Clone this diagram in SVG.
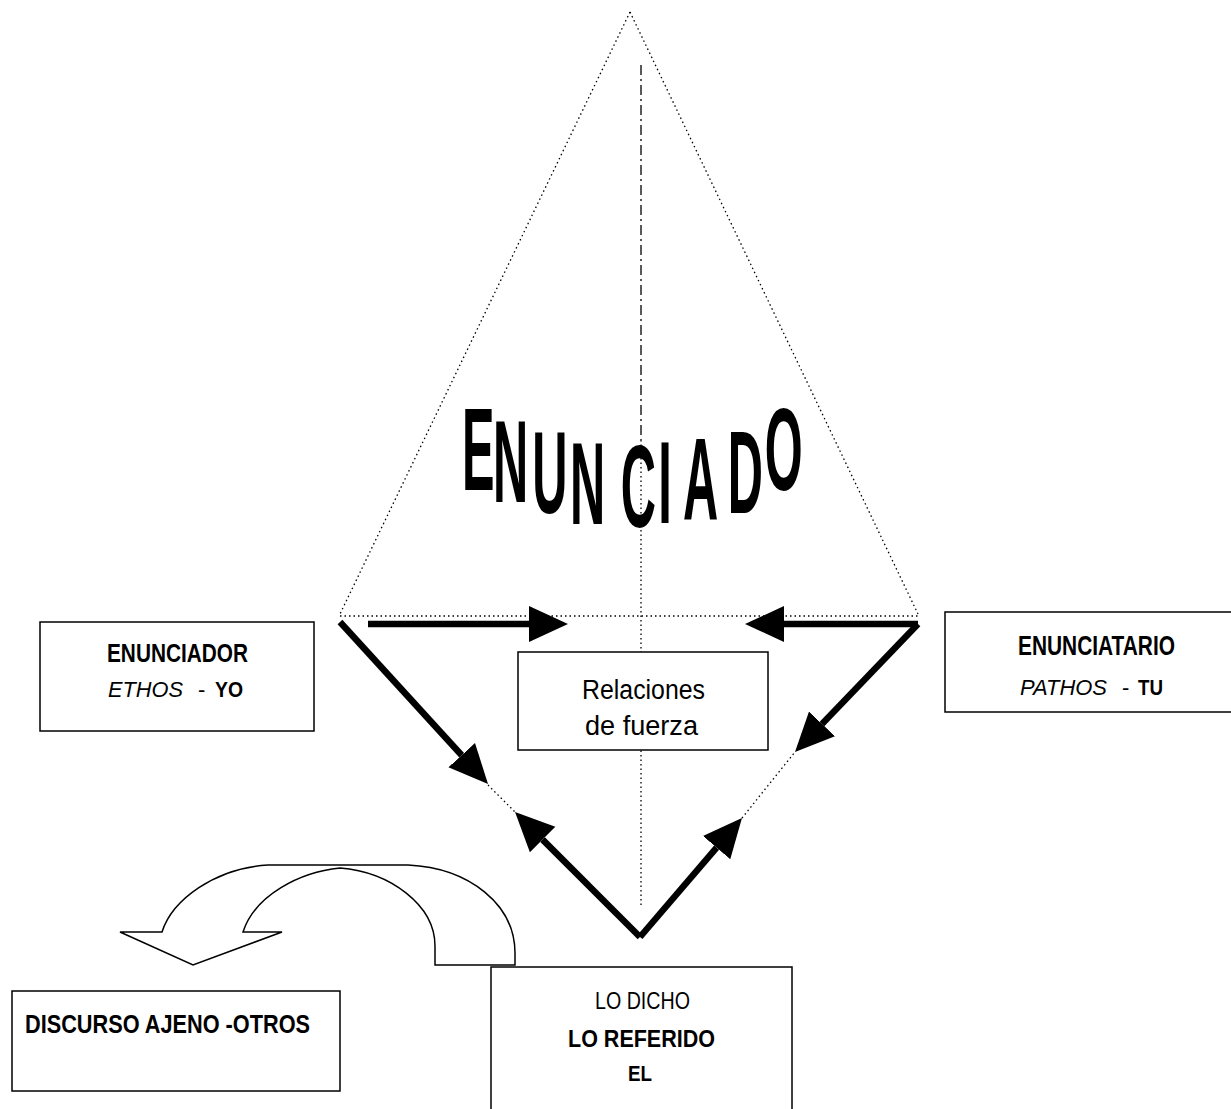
<svg xmlns="http://www.w3.org/2000/svg" width="1231" height="1109" viewBox="0 0 1231 1109">
<style>
.dot{fill:none;stroke:#000;stroke-width:1.3;stroke-dasharray:1.5 3}
.dd{fill:none;stroke:#000;stroke-width:1.3;stroke-dasharray:10 4 2 4}
.thick{fill:none;stroke:#000;stroke-width:6.5;marker-end:url(#ah)}
.box{fill:#fff;stroke:#000;stroke-width:1.5}
.t{font-family:"Liberation Sans",Arial,sans-serif;fill:#000}
.b{font-weight:bold}
.i{font-style:italic}
</style>
<defs>
<marker id="ah" markerUnits="userSpaceOnUse" markerWidth="42" markerHeight="42" viewBox="0 -19 42 38" refX="0" refY="0" orient="auto">
<path d="M0,-18 L39,0 L0,18 Z" fill="#000"/>
</marker>
</defs>
<rect width="1231" height="1109" fill="#fff"/>
<g id="pyramid">
<path class="dot" d="M630,12 L340,614 M630,12 L918,614 M340,616 L918,616"/>
<path class="dd" d="M641,65 L641,440"/>
<path class="dot" d="M641,440 L641,905"/>
<path class="dot" d="M488,785 L515,812 M742,818 L795,752"/>
<text id="enunciado" class="t b" font-size="116" transform="scale(0.42,1)"><tspan x="1100" y="490">E</tspan><tspan x="1174" y="502">N</tspan><tspan x="1267" y="513">U</tspan><tspan x="1357" y="524">N</tspan><tspan x="1478" y="527">C</tspan><tspan x="1567" y="523">I</tspan><tspan x="1626" y="520">A</tspan><tspan x="1733" y="513">D</tspan><tspan x="1821" y="490">O</tspan></text>
</g>
<g id="enunciador">
<rect class="box" x="40" y="622" width="274" height="109"/>
<text class="t b" x="107" y="662" font-size="26" textLength="141" lengthAdjust="spacingAndGlyphs">ENUNCIADOR</text>
<text class="t" y="697" font-size="22"><tspan class="i" x="108" textLength="75" lengthAdjust="spacingAndGlyphs">ETHOS</tspan><tspan x="192"> - </tspan><tspan class="b" x="215" textLength="28" lengthAdjust="spacingAndGlyphs">YO</tspan></text>
</g>
<g id="enunciatario">
<rect class="box" x="945" y="612" width="300" height="100"/>
<text class="t b" x="1018" y="655" font-size="27" textLength="157" lengthAdjust="spacingAndGlyphs">ENUNCIATARIO</text>
<text class="t" y="695" font-size="22"><tspan class="i" x="1020" textLength="87" lengthAdjust="spacingAndGlyphs">PATHOS</tspan><tspan x="1116"> - </tspan><tspan class="b" x="1138" textLength="25" lengthAdjust="spacingAndGlyphs">TU</tspan></text>
</g>
<g id="relaciones">
<rect class="box" x="518" y="652" width="250" height="98"/>
<text class="t" x="582" y="699" font-size="27" textLength="123" lengthAdjust="spacingAndGlyphs">Relaciones</text>
<text class="t" x="585" y="735" font-size="27" textLength="113" lengthAdjust="spacingAndGlyphs">de fuerza</text>
</g>
<g id="curved-arrow">
<path d="M515,965 L435,965 L435,946 C435,905 390,872 340,868 C300,872 255,895 243,932 L282,932 L193,965 L120,932 L162,932 C172,900 215,868 268,865 L408,865 C470,868 515,905 515,953 Z" fill="#fff" stroke="#000" stroke-width="1.5"/>
</g>
<g id="lo-dicho">
<rect class="box" x="491" y="967" width="301" height="160"/>
<text class="t" x="595" y="1009" font-size="24" textLength="95" lengthAdjust="spacingAndGlyphs">LO DICHO</text>
<text class="t b" x="568" y="1047" font-size="24" textLength="147" lengthAdjust="spacingAndGlyphs">LO REFERIDO</text>
<text class="t b" x="628" y="1081" font-size="22" textLength="24" lengthAdjust="spacingAndGlyphs">EL</text>
</g>
<g id="discurso-ajeno">
<rect class="box" x="12" y="991" width="328" height="100"/>
<text class="t b" x="25" y="1033" font-size="26" textLength="285" lengthAdjust="spacingAndGlyphs">DISCURSO AJENO -OTROS</text>
</g>
<g id="connectors">
<line class="thick" x1="368" y1="624" x2="529" y2="624"/>
<line class="thick" x1="918" y1="624" x2="784" y2="624"/>
<line class="thick" x1="340" y1="622" x2="461.7" y2="755.2"/>
<line class="thick" x1="918" y1="624" x2="822" y2="723.9"/>
<line class="thick" x1="640" y1="937" x2="542.6" y2="839.6"/>
<line class="thick" x1="640" y1="937" x2="716.6" y2="847.6"/>
</g>
</svg>
